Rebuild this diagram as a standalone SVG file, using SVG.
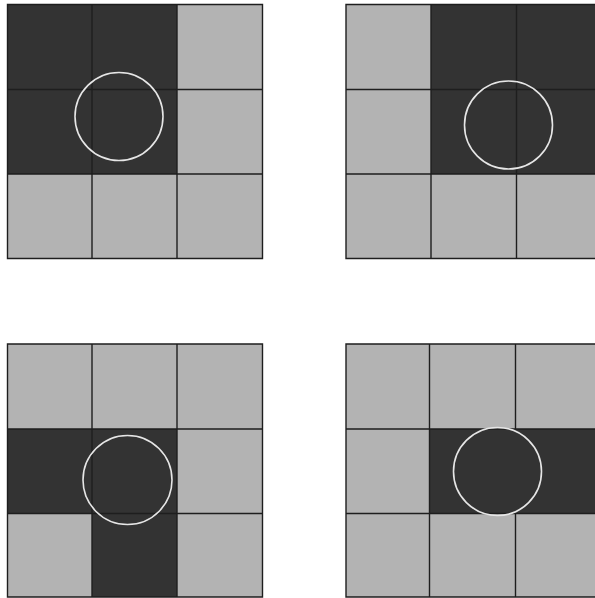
<svg xmlns="http://www.w3.org/2000/svg" width="595" height="598" viewBox="0 0 595 598">
<style>
.d{fill:#333333}
.l{fill:#b3b3b3}
.g{stroke:#1e1e1e;stroke-width:1.4;fill:none}
.c{fill:none;stroke:#e6e6e6;stroke-width:1.6}
</style>
<rect width="595" height="598" fill="#ffffff"/>
<g id="grid1">
<rect class="d" x="7.5" y="4.5" width="169.5" height="169.5"/>
<rect class="l" x="177" y="4.5" width="85.5" height="169.5"/>
<rect class="l" x="7.5" y="174" width="255" height="84.5"/>
<path class="g" d="M7.5 4.5H262.5V258.5H7.5Z M92 4.5V258.5 M177 4.5V258.5 M7.5 89.5H262.5 M7.5 174H262.5"/>
<circle class="c" cx="119" cy="116.5" r="44"/>
</g>
<g id="grid2">
<rect class="l" x="346" y="4.5" width="85" height="169.5"/>
<rect class="d" x="431" y="4.5" width="171" height="169.5"/>
<rect class="l" x="346" y="174" width="256" height="84.5"/>
<path class="g" d="M346 4.5H602V258.5H346Z M431 4.5V258.5 M516.5 4.5V258.5 M346 89.5H602 M346 174H602"/>
<circle class="c" cx="508.5" cy="125" r="44"/>
</g>
<g id="grid3">
<rect class="l" x="7.5" y="344" width="255" height="85"/>
<rect class="d" x="7.5" y="429" width="169.5" height="84.5"/>
<rect class="l" x="177" y="429" width="85.5" height="84.5"/>
<rect class="l" x="7.5" y="513.5" width="84.5" height="83.5"/>
<rect class="d" x="92" y="513.5" width="85" height="83.5"/>
<rect class="l" x="177" y="513.5" width="85.5" height="83.5"/>
<path class="g" d="M7.5 344H262.5V597H7.5Z M92 344V597 M177 344V597 M7.5 429H262.5 M7.5 513.5H262.5"/>
<circle class="c" cx="127.5" cy="480" r="44.5"/>
</g>
<g id="grid4">
<rect class="l" x="346" y="344" width="256" height="253"/>
<rect class="d" x="429.5" y="429" width="172.5" height="84.5"/>
<path class="g" d="M346 344H602V597H346Z M429.5 344V597 M515.5 344V429 M515.5 513.5V597 M346 429H602 M346 513.5H602"/>
<circle class="c" cx="497.5" cy="471.5" r="44"/>
</g>
</svg>
